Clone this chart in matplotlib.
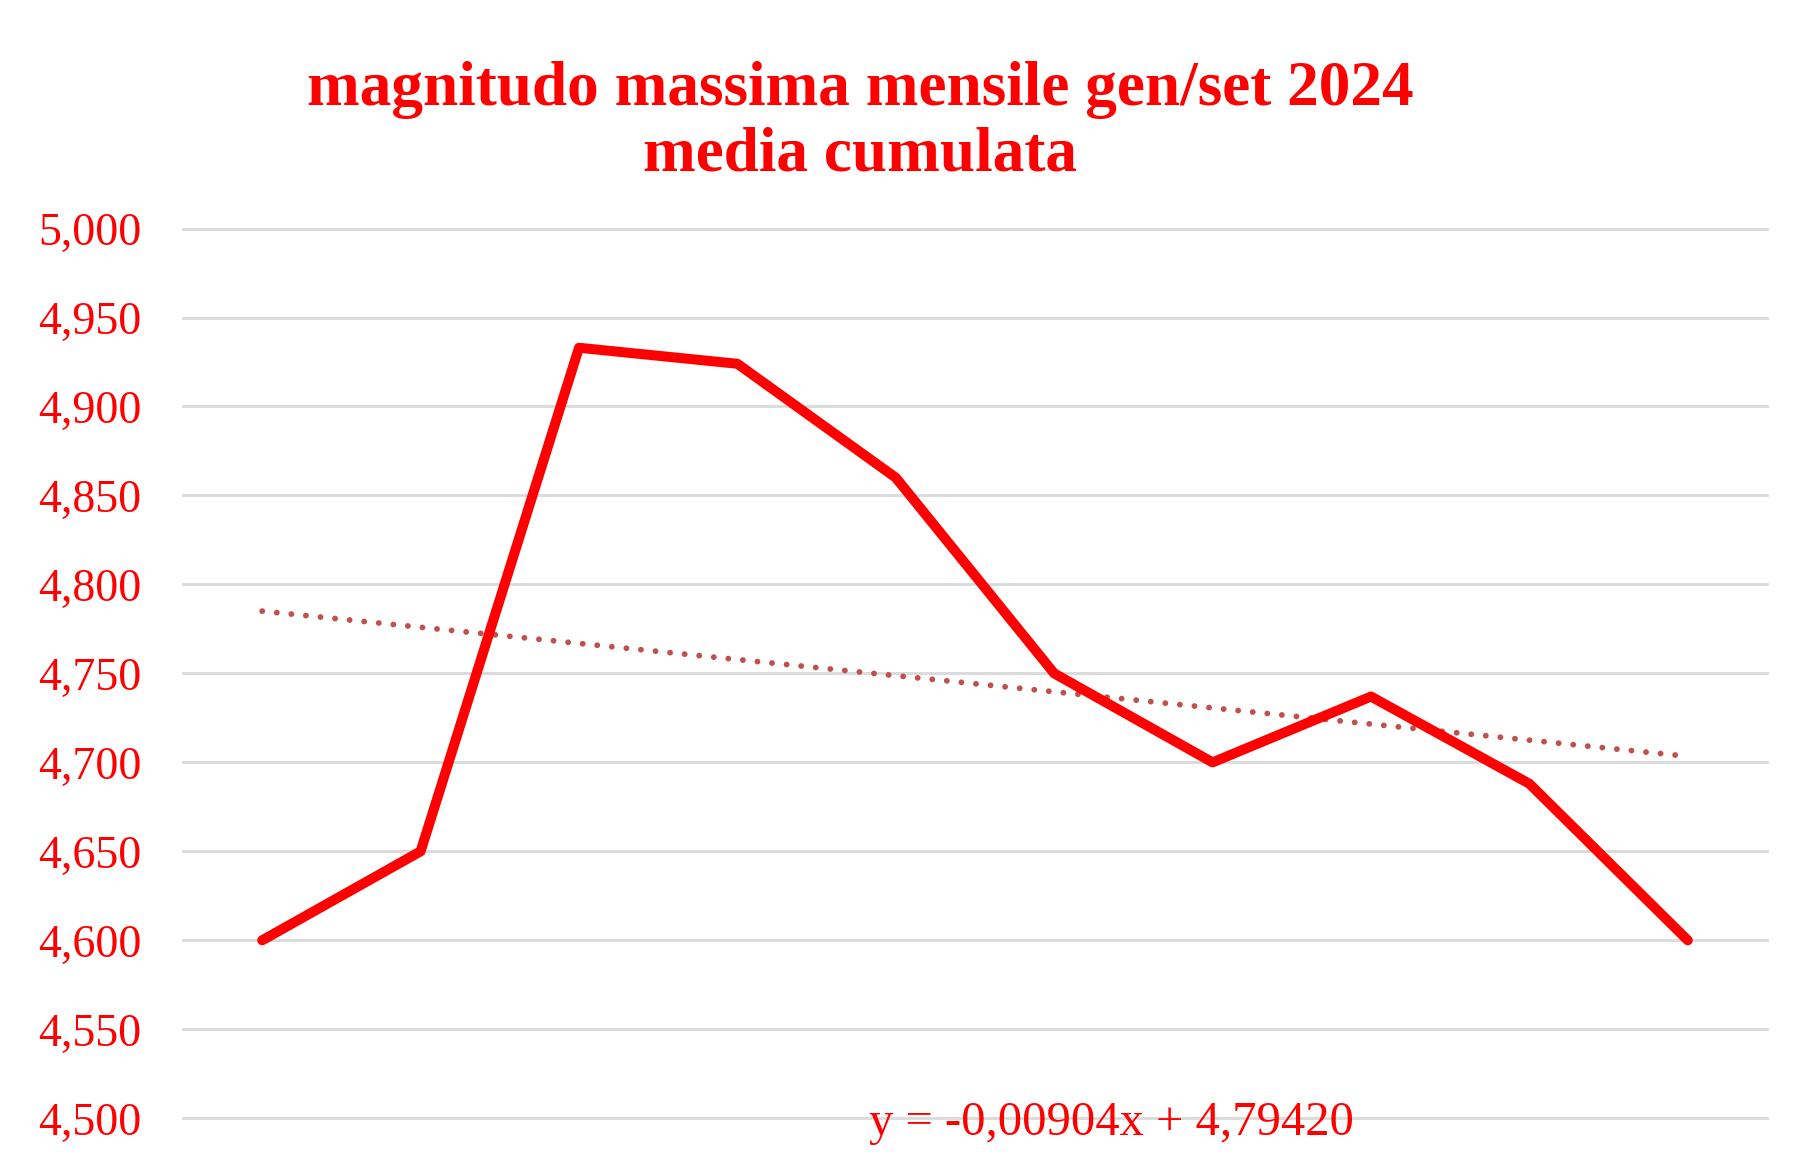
#!/usr/bin/env python3

"""
Magnitudo massima mensile gen/set 2024 - media cumulata, con linea di tendenza
"""

import numpy as np
import matplotlib
matplotlib.use('Agg')
import matplotlib.pyplot as plt
from matplotlib import ticker

# valori (media cumulata)
mesi = np.arange(1, 11)
media_cumulata = [4.600, 4.650, 4.933, 4.924, 4.860, 4.750, 4.700, 4.737, 4.688, 4.600]

y_ticks = [4.50, 4.55, 4.60, 4.65, 4.70, 4.75, 4.80, 4.85, 4.90, 4.95, 5.00]
titolo = 'magnitudo massima mensile gen/set 2024\nmedia cumulata'
equazione = 'y = -0,00904x + 4,79420'

ROSSO = '#FF0000'
ROSSO_TREND = '#C0504D'
GRIGIO = '#D9D9D9'
FONT = 'Liberation Serif'


def comma_fmt(v, pos):
    return f'{v:.3f}'.replace('.', ',')


def main():
    plt.rcParams['font.family'] = FONT

    fig = plt.figure(figsize=(18.19, 11.69), dpi=100)
    ax = fig.add_axes([0.1006, 0.0434, 0.8708, 0.7611])

    x = np.arange(len(media_cumulata))
    ax.plot(x, media_cumulata, color=ROSSO, lw=7.2,
            solid_capstyle='round', solid_joinstyle='round', zorder=3)

    # linea di tendenza lineare
    coef = np.polyfit(mesi, media_cumulata, 1)
    trend = np.polyval(coef, mesi)
    ax.plot(x, trend, color=ROSSO_TREND, lw=4.2,
            linestyle=(0, (0.01, 2.5)), dash_capstyle='round', zorder=2)

    ax.set_xlim(-0.5, len(media_cumulata) - 0.5)
    ax.set_ylim(4.5, 5.0)
    ax.set_yticks(y_ticks)
    ax.yaxis.set_major_formatter(ticker.FuncFormatter(comma_fmt))
    ax.set_xticks([])
    ax.grid(axis='y', color=GRIGIO, lw=2.0)
    for gl in ax.get_ygridlines():
        gl.set_clip_on(False)
    ax.set_axisbelow(True)
    for s in ax.spines.values():
        s.set_visible(False)
    ax.tick_params(axis='y', length=0, pad=30, labelsize=33, labelcolor=ROSSO)

    fig.text(0.473, 0.895, titolo, ha='center', va='center', color=ROSSO,
             fontsize=45.5, fontweight='bold', linespacing=1.18)
    fig.text(0.611, 0.029, equazione, ha='center', va='baseline',
             color=ROSSO, fontsize=35)

    fig.savefig('out.png', dpi=100)


if __name__ == '__main__':
    main()
